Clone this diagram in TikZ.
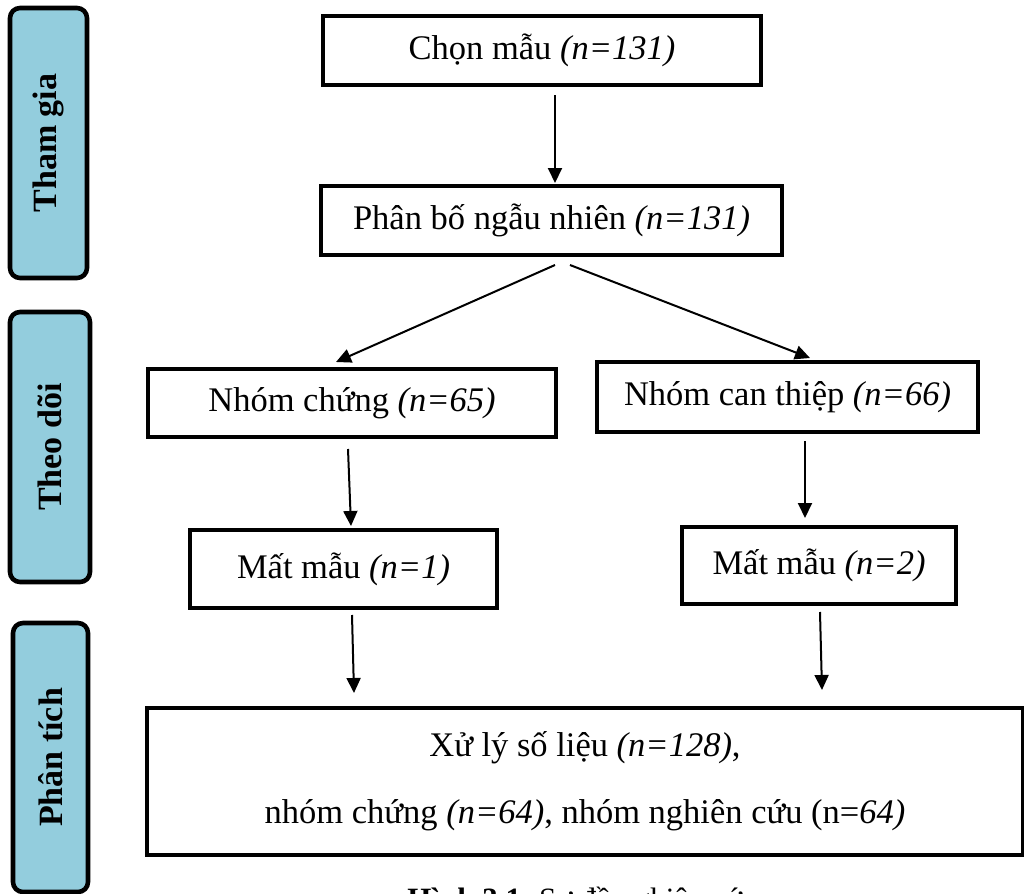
\documentclass[tikz,border=0pt]{standalone}
\usepackage{fontspec}
\setmainfont{Liberation Serif}
\usetikzlibrary{arrows.meta}
\definecolor{sideblue}{RGB}{147,205,221}
\begin{document}
\begin{tikzpicture}[x=0.5pt,y=-0.5pt,
  every node/.style={font=\fontsize{17.25pt}{20.7pt}\selectfont},
  box/.style={draw=black,line width=2pt,rectangle,inner sep=0pt,align=center,fill=white},
  sidebox/.style={draw=black,line width=2.3pt,rounded corners=5pt,fill=sideblue,rotate=90,inner sep=0pt,
     font=\fontsize{17pt}{20pt}\selectfont\bfseries},
  arr/.style={line width=1pt,-{Triangle[length=7.5pt,width=7pt]}}]
\useasboundingbox (0,0) rectangle (1024,894);
% side boxes
\node[sidebox,minimum width=135pt,minimum height=38.5pt] (s1) at (48.5,143) {Tham gia};
\node[sidebox,minimum width=135pt,minimum height=40pt] (s2) at (50,447) {Theo dõi};
\node[sidebox,minimum width=134.5pt,minimum height=37.5pt] (s3) at (50.5,757.5) {Phân tích};
% main boxes
\node[box,minimum width=219pt,minimum height=34.5pt] (chon) at (542,50.5) {Chọn mẫu \textit{(n=131)}};
\node[box,minimum width=230.5pt,minimum height=34.5pt] (pb) at (551.5,220.5) {Phân bố ngẫu nhiên \textit{(n=131)}};
\node[box,minimum width=204pt,minimum height=34pt] (chung) at (352,403) {Nhóm chứng \textit{(n=65)}};
\node[box,minimum width=190.5pt,minimum height=35pt] (ct) at (787.5,397) {Nhóm can thiệp \textit{(n=66)}};
\node[box,minimum width=153.5pt,minimum height=39pt] (mm1) at (343.5,569) {Mất mẫu \textit{(n=1)}};
\node[box,minimum width=137pt,minimum height=38.5pt] (mm2) at (819,565.5) {Mất mẫu \textit{(n=2)}};
\node[box,minimum width=438pt,minimum height=73.5pt,
  font=\fontsize{17.25pt}{33.5pt}\selectfont] (xl) at (585,781.5)
  {Xử lý số liệu \textit{(n=128)},\\ nhóm chứng \textit{(n=64)}, nhóm nghiên cứu (n=\textit{64)}};
% caption (cut by the lower edge)
\node[anchor=base west,inner sep=0pt,font=\fontsize{15.5pt}{18pt}\selectfont] (cap) at (407,909) {\textbf{Hình 3.1.} Sơ đồ nghiên cứu};
% arrows
\draw[arr] ([xshift=6.5pt,yshift=-4pt]chon.south) -- ([xshift=1.75pt,yshift=0.5pt]pb.north);
\draw[arr] ([xshift=1.75pt,yshift=-4pt]pb.south) -- ([xshift=-8pt,yshift=2.5pt]chung.north);
\draw[arr] ([xshift=9.25pt,yshift=-4pt]pb.south) -- ([xshift=11.25pt,yshift=1pt]ct.north);
\draw[arr] ([xshift=-2pt,yshift=-5pt]chung.south) -- ([xshift=3.75pt,yshift=1pt]mm1.north);
\draw[arr] ([xshift=8.75pt,yshift=-3.5pt]ct.south) -- ([xshift=-7pt,yshift=3.5pt]mm2.north);
\draw[arr] ([xshift=4.25pt,yshift=-2.5pt]mm1.south) -- ([xshift=-115.5pt,yshift=6.5pt]xl.north);
\draw[arr] ([xshift=0.5pt,yshift=-3pt]mm2.south) -- ([xshift=118.5pt,yshift=8pt]xl.north);
\end{tikzpicture}
\end{document}
